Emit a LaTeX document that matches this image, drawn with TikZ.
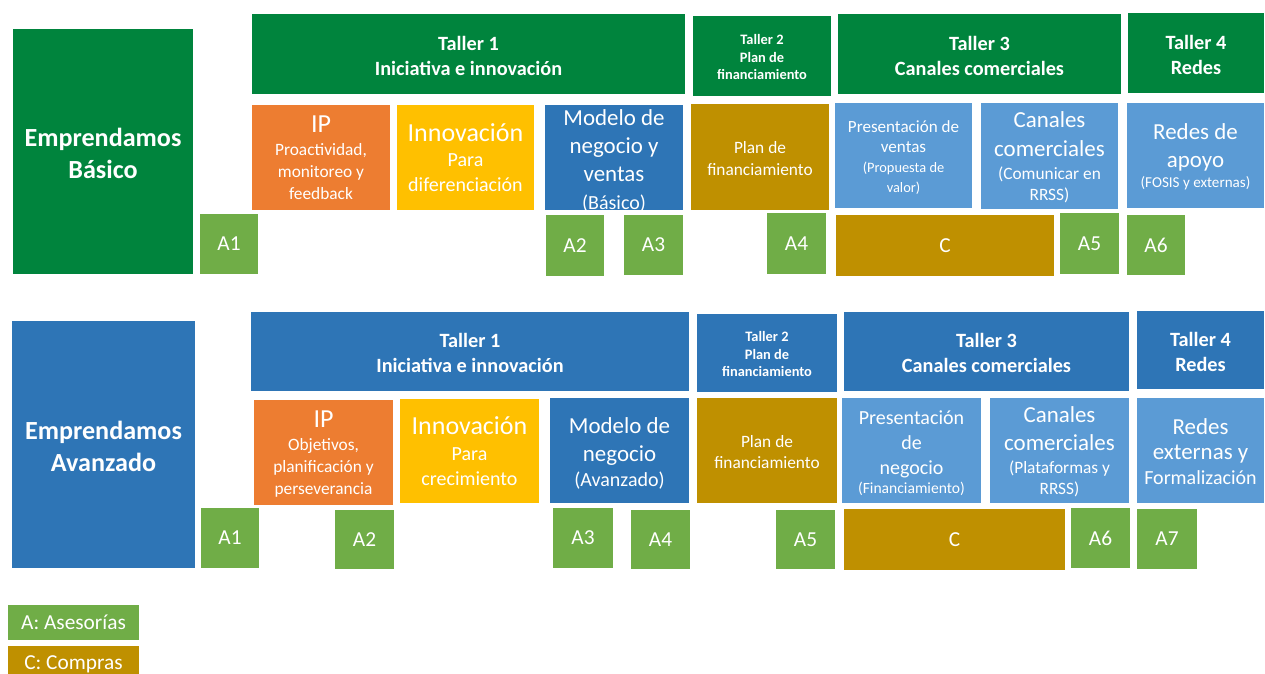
\documentclass[tikz,border=0pt]{standalone}
\usepackage{fontspec}
\setmainfont{Carlito}
\usepackage{tikz}
\usepackage{xcolor}

\definecolor{verde}{RGB}{0,132,61}
\definecolor{azul}{RGB}{46,117,182}
\definecolor{naranja}{RGB}{237,125,49}
\definecolor{amarillo}{RGB}{255,192,0}
\definecolor{dorado}{RGB}{191,144,0}
\definecolor{celeste}{RGB}{91,155,213}
\definecolor{verdeA}{RGB}{112,173,71}

\newcommand{\fgrande}{\fontsize{19.5}{23}\selectfont}
\newcommand{\fmodelo}{\fontsize{17.2}{21}\selectfont}
\newcommand{\fpara}{\fontsize{15}{18.75}\selectfont}
\newcommand{\lin}[1]{\raisebox{0pt}[\height][0pt]{\begin{tabular}[b]{@{}c@{}}#1\end{tabular}}}

\tikzset{
  caja/.style={draw=white, line width=0.9pt, inner sep=0pt, text=white},
  tam/.style 2 args={minimum width=#1*0.75pt, minimum height=#2*0.75pt},
  programa/.style={caja, font=\bfseries\fontsize{19.6}{24}\selectfont},
  taller/.style={caja, font=\bfseries\fontsize{15.2}{18.7}\selectfont},
  tallerdos/.style={caja, font=\bfseries\fontsize{10.8}{13}\selectfont},
  asesoria/.style={caja, fill=verdeA, font=\fontsize{16}{19}\selectfont},
  compra/.style={caja, fill=dorado, font=\fontsize{16}{19}\selectfont}
}

\begin{document}
\begin{tikzpicture}[x=0.75pt, y=-0.75pt]
		\useasboundingbox (0,0) rectangle (1265,674);
		% Emprendamos Basico
		\node [programa, fill=verde, tam={182}{247}] (bEmp) at (103,151.5) {\lin{Emprendamos\\Básico}};
		\node [taller, fill=verde, tam={435}{82}] (bT1) at (468.5,54) {\lin{Taller 1\\Iniciativa e innovación}};
		\node [tallerdos, fill=verde, tam={140}{82}] (bT2) at (762,56) {\lin{Taller 2\\Plan de\\financiamiento}};
		\node [taller, fill=verde, tam={285}{82}] (bT3) at (979.5,54) {\lin{Taller 3\\Canales comerciales}};
		\node [taller, fill=verde, tam={138}{82}] (bT4) at (1196,53) {\lin{Taller 4\\Redes}};
		\node [caja, fill=naranja, font=\fontsize{13}{16.3}\selectfont, tam={140}{107}] (bIP) at (321,157.5) {\lin{{\fgrande IP}\\[1pt]Proactividad,\\monitoreo y\\feedback}};
		\node [caja, fill=amarillo, font=\fpara, tam={139}{107}] (bInn) at (465.5,157.5) {\lin{{\fgrande Innovación}\\Para\\diferenciación}};
		\node [caja, fill=azul, font=\fmodelo, tam={140}{107}] (bMod) at (614,157.5) {\lin{Modelo de\\negocio y\\ventas\\{\fpara (Básico)}}};
		\node [caja, fill=dorado, font=\fontsize{13}{16}\selectfont, tam={140}{108}] (bPlan) at (760,157) {\lin{Plan de\\financiamiento}};
		\node [caja, fill=celeste, font=\fontsize{12.8}{15}\selectfont, tam={139}{107}] (bPres) at (903.5,155.5) {\lin{Presentación de\\ventas\\{\fontsize{10.8}{13}\selectfont (Propuesta de}\\{\fontsize{10.8}{13}\selectfont valor)}}};
		\node [caja, fill=celeste, font=\fontsize{13}{15.5}\selectfont, tam={139}{108}] (bCan) at (1049.5,156) {\lin{{\fmodelo Canales}\\[5pt]{\fmodelo comerciales}\\[2pt](Comunicar en\\RRSS)}};
		\node [caja, fill=celeste, font=\fontsize{11.3}{14}\selectfont, tam={139}{107}] (bRed) at (1195.5,155.5) {\lin{{\fmodelo Redes de}\\[7pt]{\fmodelo apoyo}\\[1.5pt](FOSIS y externas)}};
		\node [asesoria, tam={60}{62}] (bA1) at (229,244) {A1};
		\node [asesoria, tam={60}{63}] (bA2) at (575,245.5) {A2};
		\node [asesoria, tam={61}{62}] (bA3) at (653.5,245) {A3};
		\node [asesoria, tam={61}{63}] (bA4) at (796.5,243.5) {A4};
		\node [compra, tam={220}{63}] (bC) at (945,245.5) {C};
		\node [asesoria, tam={61}{63}] (bA5) at (1089.5,243.5) {A5};
		\node [asesoria, tam={60}{62}] (bA6) at (1156,245) {A6};
		% Emprendamos Avanzado
		\node [programa, fill=azul, tam={185}{249}] (aEmp) at (103.5,444.5) {\lin{Emprendamos\\Avanzado}};
		\node [taller, fill=azul, tam={440}{81}] (aT1) at (470,351.5) {\lin{Taller 1\\Iniciativa e innovación}};
		\node [tallerdos, fill=azul, tam={142}{80}] (aT2) at (767,353) {\lin{Taller 2\\Plan de\\financiamiento}};
		\node [taller, fill=azul, tam={287}{81}] (aT3) at (986.5,351.5) {\lin{Taller 3\\Canales comerciales}};
		\node [taller, fill=azul, tam={129}{80}] (aT4) at (1200.5,350) {\lin{Taller 4\\Redes}};
		\node [caja, fill=naranja, font=\fontsize{13}{16.3}\selectfont, tam={141}{107}] (aIP) at (323.5,452.5) {\lin{{\fgrande IP}\\[1pt]Objetivos,\\planificación y\\perseverancia}};
		\node [caja, fill=amarillo, font=\fpara, tam={141}{106}] (aInn) at (469.5,451) {\lin{{\fgrande Innovación}\\[1pt]Para\\crecimiento}};
		\node [caja, fill=azul, font=\fmodelo, tam={141}{107}] (aMod) at (619.5,450.5) {\lin{Modelo de\\negocio\\[-2pt]{\fpara (Avanzado)}}};
		\node [caja, fill=dorado, font=\fontsize{13}{16}\selectfont, tam={142}{107}] (aPlan) at (767,450.5) {\lin{Plan de\\financiamiento}};
		\node [caja, fill=celeste, font=\fpara, tam={141}{107}] (aPres) at (911.5,450.5) {\lin{Presentación\\de\\negocio\\[-4.5pt]{\fontsize{11.7}{14}\selectfont (Financiamiento)}}};
		\node [caja, fill=celeste, font=\fontsize{13}{15.5}\selectfont, tam={141}{107}] (aCan) at (1059.5,450.5) {\lin{{\fmodelo Canales}\\[4pt]{\fmodelo comerciales}\\[2pt](Plataformas y\\RRSS)}};
		\node [caja, fill=celeste, font=\fpara, tam={129}{107}] (aRed) at (1200.5,450.5) {\lin{{\fmodelo Redes}\\{\fmodelo externas y}\\Formalización}};
		\node [asesoria, tam={60}{62}] (aA1) at (230,538) {A1};
		\node [asesoria, tam={61}{61}] (aA2) at (364.5,539.5) {A2};
		\node [asesoria, tam={62}{62}] (aA3) at (583,538) {A3};
		\node [asesoria, tam={61}{61}] (aA4) at (660.5,539.5) {A4};
		\node [asesoria, tam={61}{61}] (aA5) at (805.5,539.5) {A5};
		\node [compra, tam={223}{63}] (aC) at (954.5,539.5) {C};
		\node [asesoria, tam={61}{62}] (aA6) at (1100.5,538) {A6};
		\node [asesoria, tam={62}{62}] (aA7) at (1167,539) {A7};
		% leyenda
		\node [asesoria, tam={133}{37}] (lA) at (73.5,622.5) {A: Asesorías};
		\node [compra, tam={133}{39}] (lC) at (73.5,664.5) {C: Compras};
\end{tikzpicture}
\end{document}
